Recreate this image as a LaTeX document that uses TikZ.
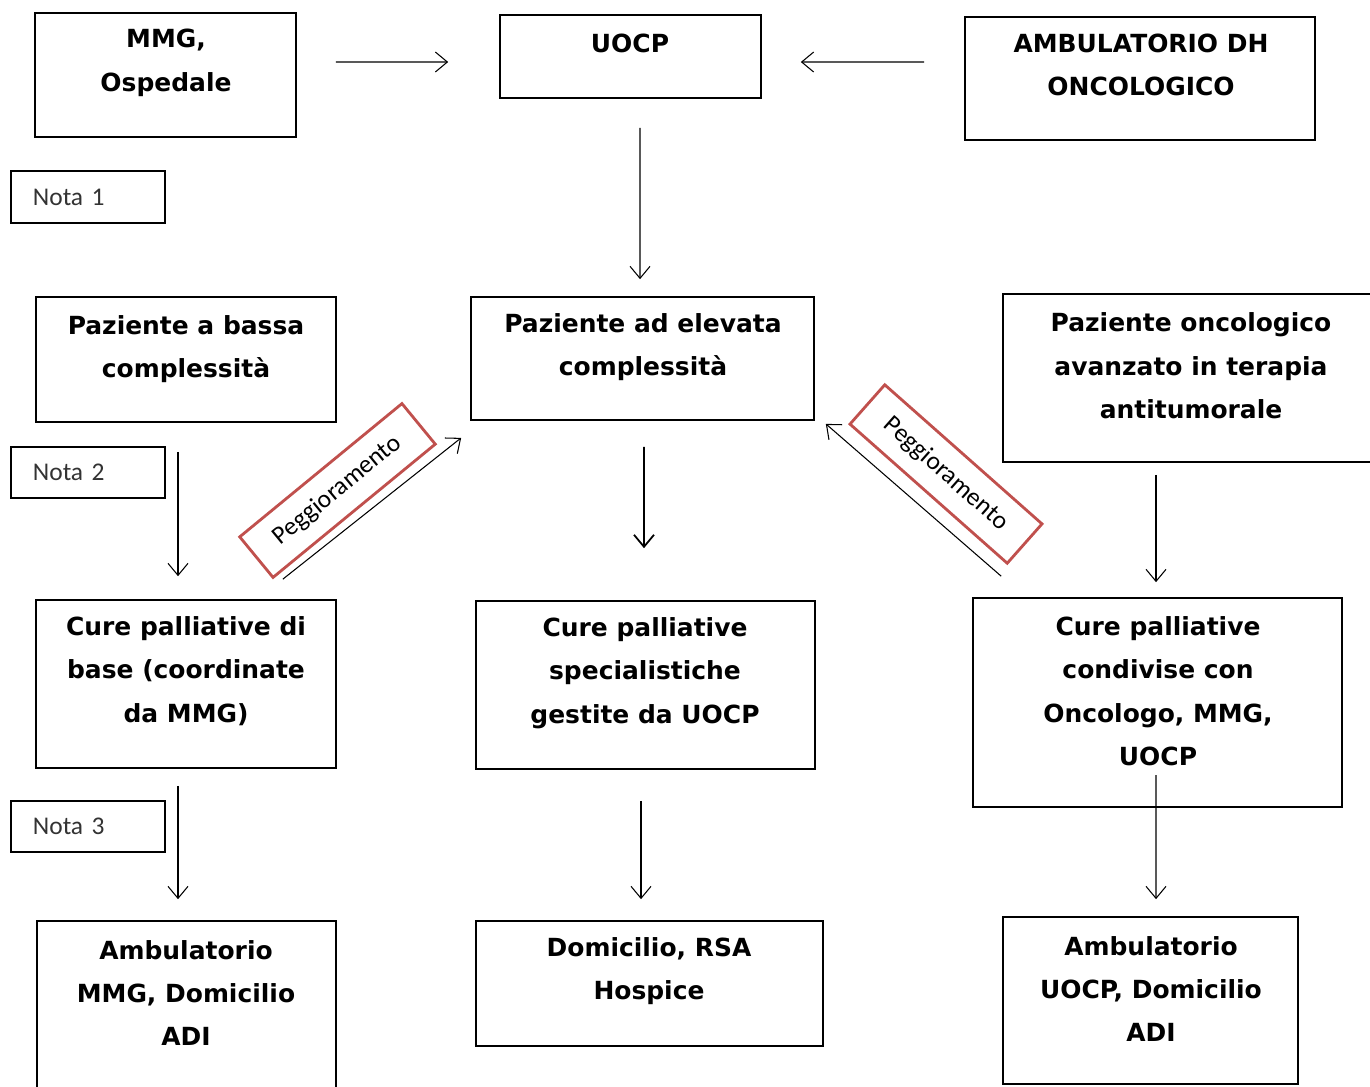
\documentclass[tikz,border=0pt]{standalone}
\usepackage{fontspec}
\setmainfont{DejaVu Sans}
\newfontfamily\notafont{Carlito}
\usetikzlibrary{arrows.meta}
\definecolor{pegred}{HTML}{C0504D}

\begin{document}
\begin{tikzpicture}[x=0.02cm, y=-0.02cm,
   box/.style={draw, line width=1pt, inner sep=0pt},
   lbl/.style={align=center, inner sep=0pt, font=\fontsize{14.2}{24.7}\selectfont\bfseries},
   nota/.style={draw, line width=1pt, anchor=west, minimum height=1.03cm, text width=2.2cm, inner xsep=0.44cm, align=left, font=\notafont\fontsize{14.5}{16}\selectfont, text=black!80},
   arr/.style={-{Straight Barb[length=2.4mm,width=4mm]}, line width=0.6pt},
   pegg/.style={draw=pegred, line width=1.6pt, minimum width=4.2cm, minimum height=1.05cm, font=\notafont\fontsize{14.5}{16}\selectfont}]
      \useasboundingbox (0,0) rectangle (1370,1086);
      \clip (0,0) rectangle (1370,1086);
      % boxes
      \node[box, minimum width=5.22cm, minimum height=2.48cm] (mmg) at (165.5,75) {};
      \node[box, minimum width=5.22cm, minimum height=1.66cm] (uocp) at (630.5,56.5) {};
      \node[box, minimum width=7cm, minimum height=2.46cm] (amb) at (1140,78.5) {};
      \node[box, minimum width=6cm, minimum height=2.5cm] (pb) at (186,359.5) {};
      \node[box, minimum width=6.86cm, minimum height=2.46cm] (pe) at (642.5,358.5) {};
      \node[box, minimum width=7.54cm, minimum height=3.36cm] (po) at (1191.5,378) {};
      \node[box, minimum width=6cm, minimum height=3.36cm] (cb) at (186,684) {};
      \node[box, minimum width=6.78cm, minimum height=3.36cm] (cs) at (645.5,685) {};
      \node[box, minimum width=7.38cm, minimum height=4.18cm] (cc) at (1157.5,702.5) {};
      \node[box, minimum width=5.98cm, minimum height=3.56cm] (ab) at (186.5,1010) {};
      \node[box, minimum width=6.94cm, minimum height=2.5cm] (dr) at (649.5,983.5) {};
      \node[box, minimum width=5.9cm, minimum height=3.34cm] (au) at (1150.5,1000.5) {};
      % texts
      \node[lbl] (mmg-t) at (166,63) {MMG,\\Ospedale};
      \node[lbl] (uocp-t) at (630,43) {UOCP};
      \node[lbl] (amb-t) at (1141,65) {AMBULATORIO DH\\ONCOLOGICO};
      \node[lbl] (pb-t) at (186,349) {Paziente a bassa\\complessità};
      \node[lbl] (pe-t) at (643,347) {Paziente ad elevata\\complessità};
      \node[lbl] (po-t) at (1191,366) {Paziente oncologico\\avanzato in terapia\\antitumorale};
      \node[lbl] (cb-t) at (186,671) {Cure palliative di\\base (coordinate\\da MMG)};
      \node[lbl] (cs-t) at (645,673) {Cure palliative\\specialistiche\\gestite da UOCP};
      \node[lbl] (cc-t) at (1158,691) {Cure palliative\\condivise con\\Oncologo, MMG,\\UOCP};
      \node[lbl] (ab-t) at (186,993) {Ambulatorio\\MMG, Domicilio\\ADI};
      \node[lbl] (dr-t) at (649,971) {Domicilio, RSA\\Hospice};
      \node[lbl] (au-t) at (1151,989) {Ambulatorio\\UOCP, Domicilio\\ADI};
      % note
      \node[nota] (nota1) at (10,197) {Nota 1};
      \node[nota] (nota2) at (10,472.5) {Nota 2};
      \node[nota] (nota3) at (10,826.5) {Nota 3};
      % arrows
      \draw[arr, shorten <=0.78cm, shorten >=1.02cm] ([shift={(0,-13)}]mmg.east) -- ([shift={(0,5.5)}]uocp.west);
      \draw[arr, shorten <=0.8cm, shorten >=0.78cm] ([shift={(0,-16.5)}]amb.west) -- ([shift={(0,5.5)}]uocp.east);
      \draw[arr, shorten <=0.58cm, shorten >=0.34cm] ([shift={(9.5,0)}]uocp.south) -- ([shift={(-2.5,0)}]pe.north);
      \draw[arr, shorten <=0.58cm, shorten >=0.46cm] ([shift={(-8,0)}]pb.south) -- ([shift={(-8,0)}]cb.north);
      \draw[arr, line width=1pt, shorten <=0.52cm, shorten >=1.04cm] ([shift={(1.5,0)}]pe.south) -- ([shift={(-1.5,0)}]cs.north);
      \draw[arr, shorten <=0.24cm, shorten >=0.3cm] ([shift={(-35.5,0)}]po.south) -- ([shift={(-1.5,0)}]cc.north);
      \draw[arr, shorten <=0.34cm, shorten >=0.42cm] ([shift={(-8,0)}]cb.south) -- ([shift={(-8.5,0)}]ab.north);
      \draw[arr, shorten <=0.62cm, shorten >=0.42cm] ([shift={(-4.5,0)}]cs.south) -- ([shift={(-8.5,0)}]dr.north);
      \coordinate (cc-out) at (1156,775);
      \draw[arr, shorten >=0.34cm] (cc-out) -- ([shift={(5.5,0)}]au.north);
      % peggioramento
      \draw[arr] ([shift={(-54,-20)}]cb.north east) -- ([shift={(-9,17)}]pe.south west);
      \draw[arr] ([shift={(29,-21)}]cc.north west) -- ([shift={(11,3)}]pe.south east);
      \node[pegg, rotate=39.4] (peg-l) at (337.5,490.5) {Peggioramento};
      \node[pegg, rotate=-41.5] (peg-r) at (946,474) {Peggioramento};
   \end{tikzpicture}
\end{document}
